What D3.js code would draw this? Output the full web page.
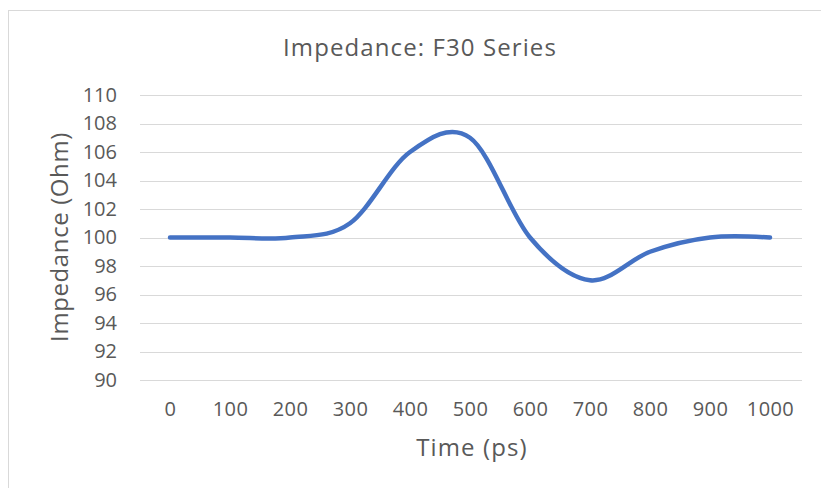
<!DOCTYPE html>
<html>
<head>
<meta charset="utf-8">
<script src="https://cdn.jsdelivr.net/npm/d3@7"></script>
<style>
    body { margin: 0; background: #fff; }
    text { font-family: "Open Sans", "Noto Sans", sans-serif; fill: #595959; }
</style>
</head>
<body>
<div id="chart"></div>
<script>
const times = ['0', '100', '200', '300', '400', '500', '600', '700', '800', '900', '1000'];
const impedance = [100, 100, 100, 101, 106, 107, 100, 97, 99, 100, 100];
const yTicks = [90, 92, 94, 96, 98, 100, 102, 104, 106, 108, 110];

const width = 821;
const height = 488;
const plot = { left: 140, right: 800, top: 95, bottom: 380 };

const svg = d3.select('#chart')
    .append('svg')
    .attr('width', width)
    .attr('height', height);

// chart area border
svg.append('rect')
    .attr('x', 8.5)
    .attr('y', 10.5)
    .attr('width', width + 10)
    .attr('height', height + 10)
    .attr('fill', 'none')
    .attr('stroke', '#d9d9d9');

const xScale = d3.scalePoint()
    .domain(times)
    .range([plot.left, plot.right])
    .padding(0.5);

const yScale = d3.scaleLinear()
    .domain([90, 110])
    .range([plot.bottom, plot.top]);

// gridlines
svg.append('g')
    .selectAll('line')
    .data(yTicks)
    .enter()
    .append('line')
    .attr('x1', plot.left)
    .attr('x2', plot.right + 2)
    .attr('y1', d => Math.round(yScale(d)) + 0.5)
    .attr('y2', d => Math.round(yScale(d)) + 0.5)
    .attr('stroke', '#d9d9d9')
    .attr('stroke-width', 1.2);

const yAxis = d3.axisLeft(yScale)
    .tickValues(yTicks)
    .tickSize(0)
    .tickPadding(0);

svg.append('g')
    .attr('transform', `translate(${plot.left - 23}, 0)`)
    .call(yAxis)
    .call(g => g.select('.domain').remove())
    .selectAll('text')
    .style('font-size', '20px')
    .attr('fill', '#595959');

const xAxis = d3.axisBottom(xScale)
    .tickSize(0)
    .tickPadding(0);

svg.append('g')
    .attr('transform', `translate(0, ${plot.bottom + 22})`)
    .call(xAxis)
    .call(g => g.select('.domain').remove())
    .selectAll('text')
    .style('font-size', '20px')
    .style('letter-spacing', '0.4px')
    .attr('fill', '#595959');

const line = d3.line()
    .x((d, i) => xScale(times[i]))
    .y(d => yScale(d))
    .curve(d3.curveCardinal.tension(0));

svg.append('path')
    .datum(impedance)
    .attr('d', line)
    .attr('fill', 'none')
    .attr('stroke', '#4472c4')
    .attr('stroke-width', 4.5)
    .attr('stroke-linecap', 'round')
    .attr('stroke-linejoin', 'round');

svg.append('text')
    .attr('x', 420)
    .attr('y', 56)
    .attr('text-anchor', 'middle')
    .style('font-size', '24px')
    .style('letter-spacing', '1.1px')
    .text('Impedance: F30 Series');

svg.append('text')
    .attr('x', 472)
    .attr('y', 456)
    .attr('text-anchor', 'middle')
    .style('font-size', '24px')
    .style('letter-spacing', '1.1px')
    .text('Time (ps)');

svg.append('text')
    .attr('transform', 'translate(68, 237) rotate(-90)')
    .attr('text-anchor', 'middle')
    .style('font-size', '24px')
    .style('letter-spacing', '0.6px')
    .text('Impedance (Ohm)');
</script>
</body>
</html>
